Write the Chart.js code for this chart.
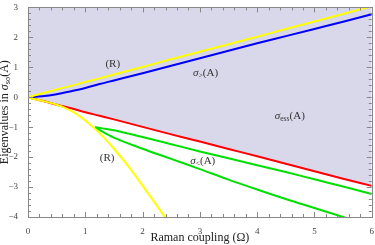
<!DOCTYPE html>
<html>
<head>
<meta charset="utf-8">
<script src="https://cdn.jsdelivr.net/npm/chart.js@4.4.1/dist/chart.umd.min.js"></script>
<style>
  html, body { margin: 0; padding: 0; background: #fff; }
</style>
</head>
<body>
<canvas id="chart" width="375" height="245"></canvas>
<script>
// values
const omega = [0, 0.25, 0.5, 0.75, 1, 1.25, 1.5, 2, 2.5, 3, 3.5, 4, 4.5, 5, 5.5, 6];
const upperR = [0, 0.13, 0.26, 0.38, 0.51, 0.63, 0.76, 1.01, 1.27, 1.52, 1.77, 2.02, 2.28, 2.53, 2.78, 3.04];
const sigmaGreater = [0, 0.03, 0.1, 0.2, 0.31, 0.44, 0.56, 0.8, 1.05, 1.3, 1.55, 1.8, 2.04, 2.28, 2.52, 2.77];
const sigmaEss = [0, -0.12, -0.25, -0.37, -0.5, -0.62, -0.74, -0.99, -1.24, -1.48, -1.73, -1.97, -2.22, -2.47, -2.72, -2.96];

const lowerROmega = [0, 0.25, 0.5, 0.75, 1, 1.25, 1.5, 1.75, 2, 2.25, 2.5];
const lowerR = [-0.02, -0.12, -0.25, -0.45, -0.78, -1.2, -1.72, -2.3, -2.95, -3.62, -4.3];

const greenOmega = [1.17, 1.3, 1.5, 2, 2.5, 3, 3.5, 4, 4.5, 5, 5.5, 6];
const sigmaLess1 = [-1.0, -1.04, -1.1, -1.33, -1.57, -1.81, -2.04, -2.27, -2.5, -2.74, -2.98, -3.23];
const sigmaLess2 = [-1.0, -1.15, -1.35, -1.72, -2.06, -2.4, -2.75, -3.08, -3.4, -3.7, -4.0, -4.3];

const xTicks = [0, 1, 2, 3, 4, 5, 6];
const yTicks = [-4, -3, -2, -1, 0, 1, 2, 3];

// text labels placed in data units
const labels = [
  { x: 1.48, y: 1.1, parts: [{ t: '(R)' }] },
  { x: 3.1, y: 0.81, parts: [{ t: 'σ', it: true }, { t: '>', sub: true }, { t: '(A)' }] },
  { x: 4.57, y: -0.64, parts: [{ t: 'σ', it: true }, { t: 'ess', sub: true }, { t: '(A)' }] },
  { x: 1.38, y: -2.02, parts: [{ t: '(R)' }] },
  { x: 3.05, y: -2.15, parts: [{ t: 'σ', it: true }, { t: '<', sub: true }, { t: '(A)' }] }
];

const pts = (xs, ys) => xs.map((x, i) => ({ x: x, y: ys[i] }));
const SERIF = '"Liberation Serif", "DejaVu Serif", serif';

function line(label, xs, ys, color, extra) {
  return Object.assign({
    label: label,
    data: pts(xs, ys),
    borderColor: color,
    borderWidth: 2,
    pointRadius: 0,
    cubicInterpolationMode: 'monotone',
    fill: false
  }, extra || {});
}

function drawParts(ctx, cx, cy, parts, size) {
  const fontOf = p => (p.it ? 'italic ' : '') + (p.sub ? size * 0.7 : size) + 'px ' + SERIF;
  let w = 0;
  parts.forEach(p => { ctx.font = fontOf(p); w += ctx.measureText(p.t).width; });
  let x = cx - w / 2;
  ctx.textBaseline = 'middle';
  ctx.textAlign = 'left';
  parts.forEach(p => {
    ctx.font = fontOf(p);
    ctx.fillText(p.t, x, p.sub ? cy + size * 0.25 : cy);
    x += ctx.measureText(p.t).width;
  });
}

const frameTicks = {
  id: 'frameTicks',
  afterDraw(chart) {
    const { ctx, chartArea: a, scales: { x, y } } = chart;
    ctx.save();
    ctx.strokeStyle = '#888';
    ctx.lineWidth = 1;
    ctx.strokeRect(Math.round(a.left) + 0.5, Math.round(a.top) + 0.5,
      Math.round(a.right - a.left), Math.round(a.bottom - a.top));
    ctx.beginPath();
    for (let i = 0; i <= 30; i++) {
      const px = Math.round(x.getPixelForValue(i * 0.2)) + 0.5;
      const len = i % 5 === 0 ? 5 : 3;
      ctx.moveTo(px, a.bottom); ctx.lineTo(px, a.bottom - len);
      ctx.moveTo(px, a.top); ctx.lineTo(px, a.top + len);
    }
    for (let i = 0; i <= 35; i++) {
      const py = Math.round(y.getPixelForValue(-4 + i * 0.2)) + 0.5;
      const len = i % 5 === 0 ? 5 : 3;
      ctx.moveTo(a.left, py); ctx.lineTo(a.left + len, py);
      ctx.moveTo(a.right, py); ctx.lineTo(a.right - len, py);
    }
    ctx.stroke();

    // y axis title with subscript
    ctx.fillStyle = '#222';
    ctx.translate(5, (a.top + a.bottom) / 2);
    ctx.rotate(-Math.PI / 2);
    drawParts(ctx, 0, 0, [{ t: 'Eigenvalues in ' }, { t: 'σ', it: true }, { t: 'so', sub: true }, { t: '(A)' }], 12);
    ctx.restore();
  },
  afterDatasetsDraw(chart) {
    const { ctx, scales: { x, y } } = chart;
    ctx.save();
    ctx.fillStyle = '#333';
    labels.forEach(l => drawParts(ctx, x.getPixelForValue(l.x), y.getPixelForValue(l.y), l.parts, 11));
    ctx.restore();
  }
};

new Chart(document.getElementById('chart'), {
  type: 'line',
  data: {
    datasets: [
      line('(R) upper', omega, upperR, '#ffff00'),
      line('(R) lower', lowerROmega, lowerR, '#ffff00'),
      line('σ>(A)', omega, sigmaGreater, '#0000ff'),
      line('σ<(A) 1', greenOmega, sigmaLess1, '#00e000'),
      line('σ<(A) 2', greenOmega, sigmaLess2, '#00e000'),
      line('σess(A)', omega, sigmaEss, '#ff0000', { fill: 'end', backgroundColor: 'rgb(216, 216, 234)' })
    ]
  },
  options: {
    responsive: false,
    animation: false,
    devicePixelRatio: 1,
    layout: { padding: { top: 5, right: 3, left: 0, bottom: 0 } },
    plugins: {
      legend: { display: false },
      tooltip: { enabled: false },
      filler: { drawTime: 'beforeDatasetsDraw' }
    },
    scales: {
      x: {
        type: 'linear',
        min: 0,
        max: 6,
        afterBuildTicks: s => { s.ticks = xTicks.map(v => ({ value: v })); },
        afterFit: s => { s.height = 28; },
        grid: { display: false },
        border: { display: false },
        ticks: { font: { family: SERIF, size: 9 }, color: '#444', padding: 1, maxRotation: 0 },
        title: { display: true, text: 'Raman coupling (Ω)', font: { family: SERIF, size: 12 }, color: '#222', padding: { top: 0, bottom: 0 } }
      },
      y: {
        type: 'linear',
        min: -4,
        max: 3,
        afterBuildTicks: s => { s.ticks = yTicks.map(v => ({ value: v })); },
        afterFit: s => { s.width = 28; },
        grid: { display: false },
        border: { display: false },
        ticks: { font: { family: SERIF, size: 9 }, color: '#444', padding: 2, callback: v => String(v).replace('-', '−') }
      }
    }
  },
  plugins: [frameTicks]
});
</script>
</body>
</html>
